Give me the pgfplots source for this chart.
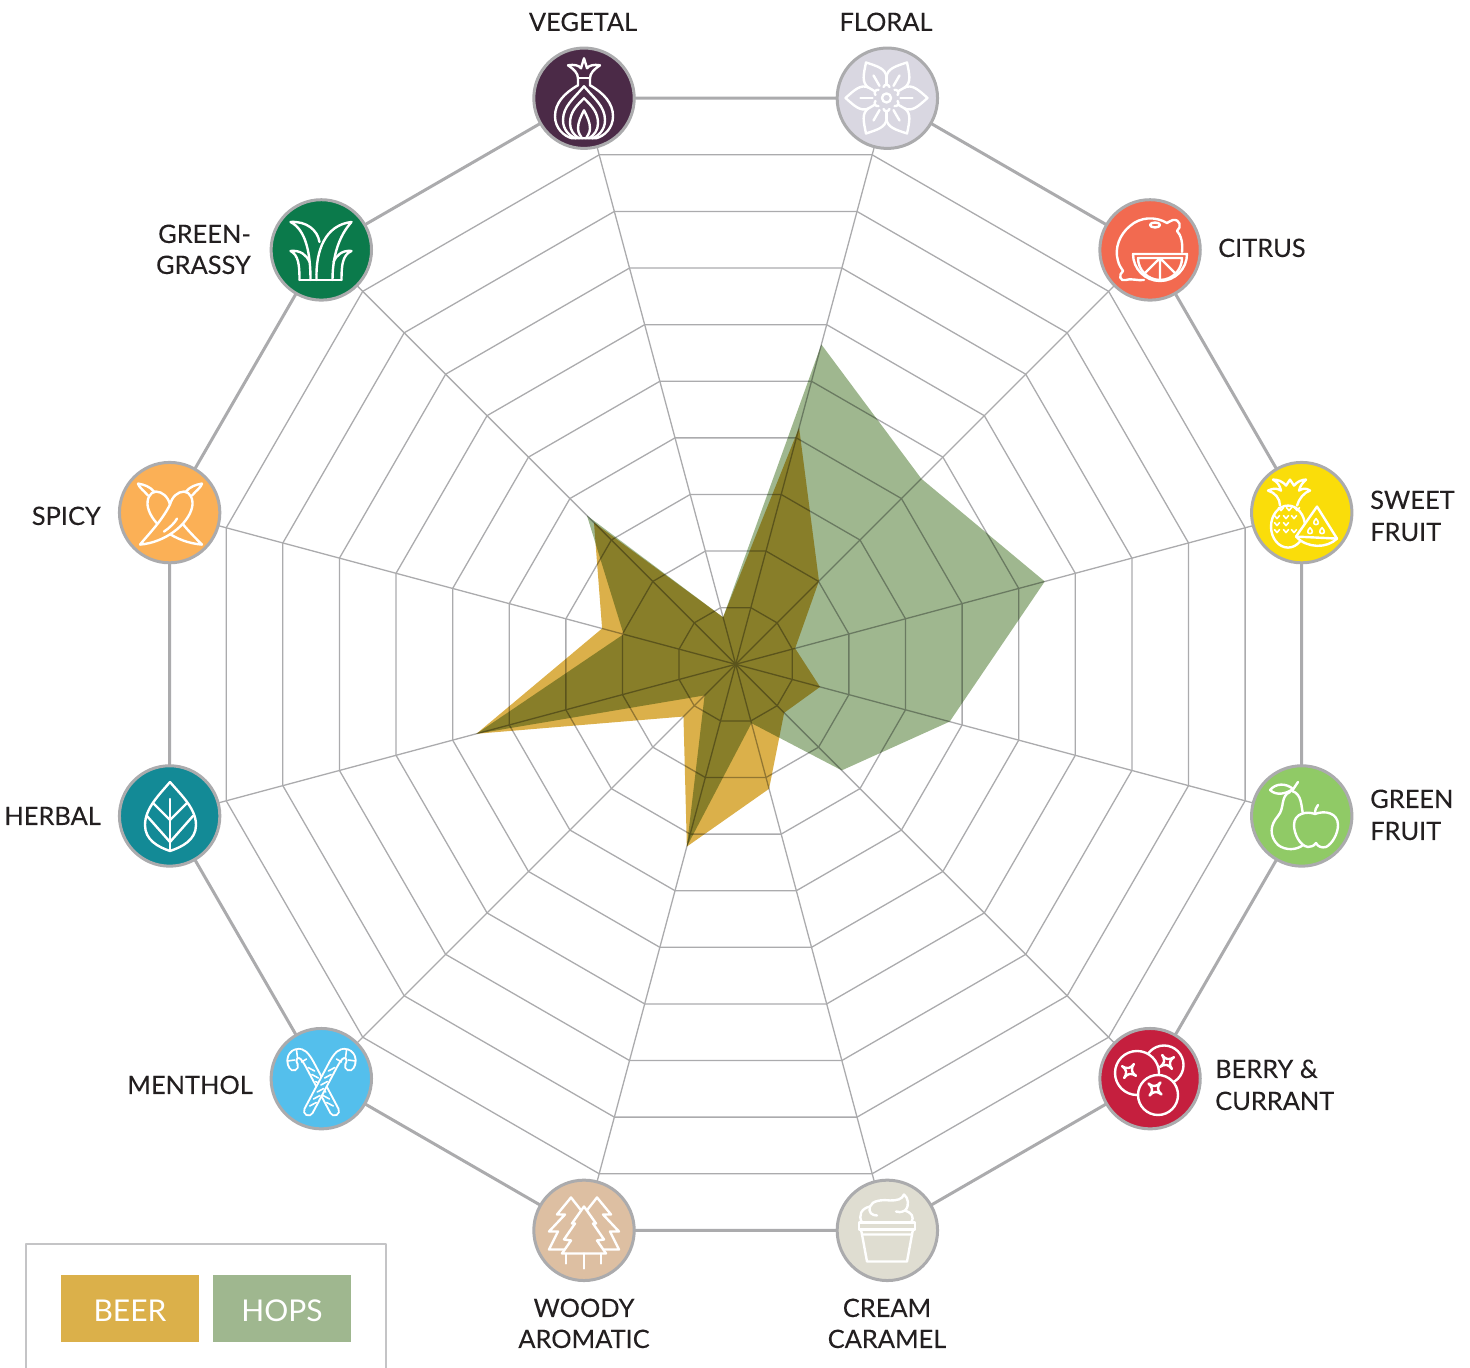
\documentclass[border=0pt]{standalone}
\usepackage{fontspec}
\setmainfont{Lato}
\newfontfamily\labfont[FakeBold=0.12]{Lato}
\usepackage{pgfplots}
\pgfplotsset{compat=1.18}
\definecolor{beer}{HTML}{DBB04A}
\definecolor{hops}{HTML}{9FB78F}
\definecolor{gridc}{HTML}{ABABAD}
\definecolor{ink}{HTML}{231F20}
\definecolor{cveg}{HTML}{4B2A47}
\definecolor{cflo}{HTML}{D9D7E1}
\definecolor{ccit}{HTML}{F26A50}
\definecolor{cswe}{HTML}{FADD0A}
\definecolor{cgre}{HTML}{90CA66}
\definecolor{cber}{HTML}{C51F3E}
\definecolor{ccre}{HTML}{DFDDD1}
\definecolor{cwoo}{HTML}{DDBFA2}
\definecolor{cmen}{HTML}{54BFEC}
\definecolor{cher}{HTML}{138A96}
\definecolor{cspi}{HTML}{FBB056}
\definecolor{cgra}{HTML}{0B7A4B}
\newcommand\icon[3]{\begin{scope}[shift={(#1,#2)}]#3\end{scope}}
\newcommand\lab[4]{\node[anchor=#1,inner sep=0pt,text=ink,font=\labfont\fontsize{12.7}{15}\selectfont] at (#2,#3) {#4};}
\newcommand\disc[2]{\addplot[only marks,data cs=polar,mark=*,mark size=25.1pt,mark options={draw=gridc,line width=1.5pt,fill=#1}] coordinates {(#2,10)};}
\begin{document}
\begin{tikzpicture}
\path[use as bounding box] (0,0) rectangle (735pt,684pt);
\begin{axis}[scale only axis,width=735pt,height=684pt,hide axis,clip=false,
  xmin=-12.554,xmax=12.531,ymin=-12.008,ymax=11.336]
% web
\pgfplotsinvokeforeach{1,2,3,4,5,6,7,8,9}{
  \addplot[gridc,line width=0.65pt,data cs=polar] coordinates {(15,#1)(45,#1)(75,#1)(105,#1)(135,#1)(165,#1)(195,#1)(225,#1)(255,#1)(285,#1)(315,#1)(345,#1)} -- cycle;
}
\pgfplotsinvokeforeach{15,45,75,105,135,165,195,225,255,285,315,345}{
  \addplot[gridc,line width=0.65pt,data cs=polar] coordinates {(#1,0)(#1,10)};
}
\addplot[gridc,line width=1.5pt,data cs=polar] coordinates {(15,10)(45,10)(75,10)(105,10)(135,10)(165,10)(195,10)(225,10)(255,10)(285,10)(315,10)(345,10)} -- cycle;
% series
\addplot[draw=none,fill=hops,blend mode=multiply,data cs=polar] coordinates {(75,5.65)(45,4.48)(15,5.46)(-15,3.78)(-45,2.56)(-75,1.04)(-105,3.22)(-135,0.75)(-165,4.58)(165,1.98)(135,3.59)(105,0.83)} -- cycle;
\addplot[draw=none,fill=beer,blend mode=multiply,data cs=polar] coordinates {(75,4.18)(45,2.01)(15,1.05)(-15,1.49)(-45,1.17)(-75,2.2)(-105,3.22)(-135,1.26)(-165,4.58)(165,2.36)(135,3.42)(105,0.83)} -- cycle;
% discs
\disc{cveg}{105}\disc{cflo}{75}\disc{ccit}{45}\disc{cswe}{15}\disc{cgre}{-15}\disc{cber}{-45}
\disc{ccre}{-75}\disc{cwoo}{-105}\disc{cmen}{-135}\disc{cher}{-165}\disc{cspi}{165}\disc{cgra}{135}
\end{axis}
\begin{scope}[x=0.5pt,y=-0.5pt,yshift=684pt,draw=white,line width=1.2pt,line join=round,line cap=round]
% VEGETAL
\icon{584}{98.3}{
 \draw (-6,-20)--(6,-20);
 \draw (-6,-20) .. controls (-6,-25) and (-10,-29) .. (-16,-33) .. controls (-10,-34) and (-5,-33) .. (-3,-30) -- (0,-40) -- (3,-30) .. controls (5,-33) and (10,-34) .. (16,-33) .. controls (10,-29) and (6,-25) .. (6,-20);
 \draw (-6,-20) -- (-6,-13) .. controls (-20,-5) and (-29,5) .. (-29,18) .. controls (-29,30) and (-20,38) .. (-12,40) -- (12,40) .. controls (20,38) and (29,30) .. (29,18) .. controls (29,5) and (20,-5) .. (6,-13) -- (6,-20);
 \draw (-8,40) .. controls (-14,38) and (-21,32) .. (-21,22) .. controls (-21,8) and (-10,0) .. (0,-12) .. controls (10,0) and (21,8) .. (21,22) .. controls (21,32) and (14,38) .. (8,40);
 \draw (-5,40) .. controls (-10,37) and (-14,32) .. (-14,25) .. controls (-14,14) and (-8,8) .. (0,0) .. controls (8,8) and (14,14) .. (14,25) .. controls (14,32) and (10,37) .. (5,40);
 \draw (-2,40) .. controls (-3,38) and (-6,35) .. (-6,30) .. controls (-6,24) and (-3,18) .. (0,12) .. controls (3,18) and (6,24) .. (6,30) .. controls (6,35) and (3,38) .. (2,40);
}
% FLORAL
\icon{886.5}{98}{
 \foreach \a in {0,60,...,300}{
  \begin{scope}[rotate=\a]
  \draw (18,-10.5) .. controls (26,-14) and (32,-8) .. (41,0) .. controls (32,8) and (26,14) .. (18,10.5);
  \draw (14,0)--(26,0);
  \end{scope}
  \begin{scope}[rotate=\a+30]
  \draw (11,-3) .. controls (14,-2) and (14,2) .. (11,3);
  \draw (14,0)--(21,0);
  \end{scope}
 }
 \draw (0,0) circle[radius=4.5];
}
% CITRUS
\icon{1150}{251}{
 \draw (32,1) .. controls (33,-8) and (31,-16) .. (27,-20) .. controls (32,-24) and (30,-32) .. (23,-31) .. controls (20,-30) and (19,-29) .. (17,-28) .. controls (5,-35) and (-10,-34) .. (-20,-25) .. controls (-30,-17) and (-36,-3) .. (-32,10) .. controls (-31,14) and (-29,17) .. (-27,20) .. controls (-32,24) and (-30,31) .. (-24,29) .. controls (-20,27) and (-12,30) .. (-6,29);
 \draw[fill=ccit] (-17,3) arc[start angle=180,end angle=0,radius=27] -- cycle;
 \draw (-12,7) arc[start angle=180,end angle=0,radius=22] -- cycle;
 \draw (10,7)--(10,29) (10,7)--(-5,22) (10,7)--(25,22);
 \draw (5,-26) ellipse[x radius=5,y radius=2.5];
}
% SWEET FRUIT
\icon{1302}{512.6}{
 \draw (-14,14) ellipse[x radius=17,y radius=21];
 \draw (-22,-7) .. controls (-22,-14) and (-27,-20) .. (-34,-22) .. controls (-28,-25) and (-24,-24) .. (-21,-22) .. controls (-22,-27) and (-25,-31) .. (-29,-33) .. controls (-24,-33) and (-19,-31) .. (-16,-27) -- (-12,-33) -- (-8,-27) .. controls (-5,-31) and (0,-33) .. (4,-33) .. controls (1,-30) and (-2,-27) .. (-3,-22) .. controls (0,-24) and (4,-25) .. (8,-22) .. controls (2,-20) and (-3,-14) .. (-5,-7);
 \foreach \p in {(-21,-3),(-13,-3),(-5,-3),(-25,5),(-16,5),(-8,5),(-25,19),(-16,19),(-8,19),(-25,12),(-16,12)}{
  \draw[line width=.8pt,shift={\p}] (-2.5,-2)--(0,1)--(2.5,-2);
 }
 \draw[fill=cswe] (15,-6) -- (35,26) .. controls (25,36) and (5,36) .. (-6,24) -- cycle;
 \draw (-6,24) -- (35,26);
 \foreach \p in {(14,9),(8,18),(20,18)}{
  \draw[line width=.8pt,shift={\p}] (0,-3) .. controls (3,0) and (3,3) .. (0,3) .. controls (-3,3) and (-3,0) .. (0,-3);
 }
}
% GREEN FRUIT
\icon{1302}{816}{
 \draw (-10,-25) -- (-4,-34);
 \draw (-32,-26) .. controls (-26,-33) and (-16,-33) .. (-9,-27) .. controls (-16,-22) and (-26,-20) .. (-32,-26);
 \draw (-12,-24) .. controls (-22,-20) and (-17,-8) .. (-24,0) .. controls (-32,9) and (-33,20) .. (-24,29) .. controls (-16,35) and (-5,34) .. (1,29);
 \draw (-10,-25) .. controls (0,-22) and (-1,-10) .. (1,-2);
 \draw (13,-2) .. controls (13,-6) and (14,-9) .. (16,-11);
 \draw[fill=cgre] (13,-2) .. controls (5,-5) and (-8,-3) .. (-8,9) .. controls (-8,18) and (-2,30) .. (6,31) .. controls (9,31) and (12,30) .. (14,27) .. controls (16,31) and (20,32) .. (24,31) .. controls (30,28) and (36,18) .. (36,9) .. controls (36,-3) and (23,-6) .. (13,-2);
}
% BERRY
\icon{1150}{1078}{
 \draw[fill=cber] (14,-13) circle[radius=19.5];
 \draw[fill=cber] (-13,-5) circle[radius=22];
 \draw[fill=cber] (8,17) circle[radius=20];
 \foreach \p/\r in {(-21,-7)/10,(17,-16)/-10,(5,11)/5}{
  \draw[shift={\p},rotate=\r] (-6,-6) .. controls (-2,-2) and (2,-2) .. (6,-6) .. controls (2,-2) and (2,2) .. (6,6) .. controls (2,2) and (-2,2) .. (-6,6) .. controls (-2,2) and (-2,-2) .. (-6,-6);
 }
}
% CREAM
\icon{887}{1230.5}{
 \draw (-28,-8) rectangle (28,-1);
 \draw (-26,-1) -- (-25,4) -- (25,4) -- (26,-1);
 \draw (-25,4) -- (-20,31) -- (20,31) -- (25,4);
 \draw (-25,-8) .. controls (-29,-15) and (-26,-22) .. (-17,-24) .. controls (-15,-30) and (-5,-31) .. (3,-30) .. controls (10,-30) and (15,-31) .. (17,-36) .. controls (21,-33) and (23,-25) .. (18,-20) .. controls (24,-18) and (28,-14) .. (24,-8);
 \draw (-17,-24) .. controls (-19,-18) and (-15,-15) .. (-10,-15);
 \draw (18,-20) .. controls (14,-18) and (11,-18) .. (9,-19);
}
% WOODY
\icon{584}{1230.5}{
 \draw (-13,-33) -- (-27,-16) -- (-19,-16) -- (-35,1) -- (-26,1) -- (-35,19) -- (-18,19);
 \draw (-13,-33) -- (-2,-19);
 \draw (13,-33) -- (27,-16) -- (19,-16) -- (35,1) -- (26,1) -- (35,19) -- (18,19);
 \draw (13,-33) -- (2,-19);
 \draw[fill=cwoo] (0,-24) -- (12,-7) -- (9,-7) -- (20,9) -- (13,10) -- (22,23) -- (-22,23) -- (-13,10) -- (-20,9) -- (-9,-7) -- (-12,-7) -- cycle;
 \draw (0,23)--(0,38) (-18,23)--(-18,33) (17,23)--(17,33);
}
% MENTHOL
\icon{321.5}{1079}{
 \foreach \s in {1,-1}{
 \begin{scope}[xscale=\s]
  \draw[line width=5.5pt,line cap=round] (13,32) -- (-12,-15) .. controls (-16,-22) and (-20,-28) .. (-26,-25) .. controls (-31,-22) and (-30,-16) .. (-28,-13);
  \draw[cmen,line width=3.5pt,line cap=round] (13,32) -- (-12,-15) .. controls (-16,-22) and (-20,-28) .. (-26,-25) .. controls (-31,-22) and (-30,-16) .. (-28,-13);
  \foreach \t in {-11,-4,3,10,17,24}{
   \draw[line width=.8pt] ({(\t+15)*0.532-12-3.5},{\t-0.5}) -- ({(\t+15)*0.532-12+3},{\t+3});
  }
  \draw[line width=.8pt] (-15,-20)--(-20,-17) (-25,-29)--(-24,-21) (-34,-18)--(-27,-19);
 \end{scope}
 }
}
% HERBAL
\icon{170}{816}{
 \draw (0,-34) .. controls (-10,-22) and (-25,-8) .. (-25,9) .. controls (-25,24) and (-12,31) .. (0,35) .. controls (12,31) and (26,24) .. (26,9) .. controls (26,-8) and (10,-22) .. (0,-34);
 \draw (0,-17)--(0,35);
 \draw (0,4)--(-17,-13) (0,4)--(17,-13) (0,26)--(-23,0) (0,26)--(23,0);
}
% SPICY
\icon{170}{512.6}{
 \begin{scope}[xscale=-1]
  \draw[fill=cspi] (-32,32) .. controls (-20,20) and (-8,8) .. (0,-8) .. controls (2,-16) and (8,-21) .. (14,-21) .. controls (20,-21) and (24,-13) .. (22,-5) .. controls (18,12) and (-5,30) .. (-32,32) -- cycle;
  \draw (16,-21) .. controls (20,-26) and (26,-28) .. (32,-29) .. controls (31,-25) and (26,-22) .. (22,-17);
 \end{scope}
 \draw[fill=cspi] (-30,32) .. controls (-20,20) and (-8,8) .. (0,-8) .. controls (2,-16) and (8,-21) .. (14,-21) .. controls (20,-21) and (24,-13) .. (22,-5) .. controls (18,12) and (-5,30) .. (-30,32) -- cycle;
 \draw (16,-21) .. controls (20,-26) and (26,-28) .. (32,-29) .. controls (31,-25) and (26,-22) .. (22,-17);
 \draw (-6,19) .. controls (0,15) and (5,10) .. (7,6);
}
% GRASSY
\icon{320.5}{250}{
 \draw (-21,30)--(21,30);
 \draw (-10,30) .. controls (-10,5) and (-14,-20) .. (-30,-28) .. controls (-14,-29) and (-3,-20) .. (-1,-8);
 \draw (-4,30) .. controls (-5,0) and (5,-25) .. (31,-28) .. controls (22,-18) and (12,0) .. (12,30);
 \draw (-21,30) .. controls (-21,15) and (-22,5) .. (-30,1) .. controls (-20,0) and (-14,5) .. (-11,12);
 \draw (21,30) .. controls (21,15) and (22,5) .. (31,1) .. controls (22,0) and (16,5) .. (13,12);
}
% labels
\lab{base}{583}{31}{VEGETAL}
\lab{base}{886}{31}{FLORAL}
\lab{base west}{1217}{257}{CITRUS}
\lab{base west}{1369}{509}{SWEET}
\lab{base west}{1369}{541}{FRUIT}
\lab{base west}{1369}{808}{GREEN}
\lab{base west}{1369}{840}{FRUIT}
\lab{base west}{1214}{1078}{BERRY \&}
\lab{base west}{1214}{1110}{CURRANT}
\lab{base}{887}{1317}{CREAM}
\lab{base}{887}{1348}{CARAMEL}
\lab{base}{584}{1317}{WOODY}
\lab{base}{584}{1348}{AROMATIC}
\lab{base east}{254}{1094}{MENTHOL}
\lab{base east}{102}{825}{HERBAL}
\lab{base east}{102}{525}{SPICY}
\lab{base east}{252}{243}{GREEN-}
\lab{base east}{252}{274}{GRASSY}
% legend
\draw[draw=gridc!70,line width=.65pt,line cap=butt] (26,1368)--(26,1244)--(386,1244)--(386,1368);
\fill[beer] (61,1275) rectangle (199,1342);
\fill[hops] (213,1275) rectangle (351,1342);
\node[anchor=base,inner sep=0pt,text=white,font=\fontsize{15}{18}\selectfont] at (130,1322) {BEER};
\node[anchor=base,inner sep=0pt,text=white,font=\fontsize{15}{18}\selectfont] at (282,1322) {HOPS};
\end{scope}
\end{tikzpicture}
\end{document}
